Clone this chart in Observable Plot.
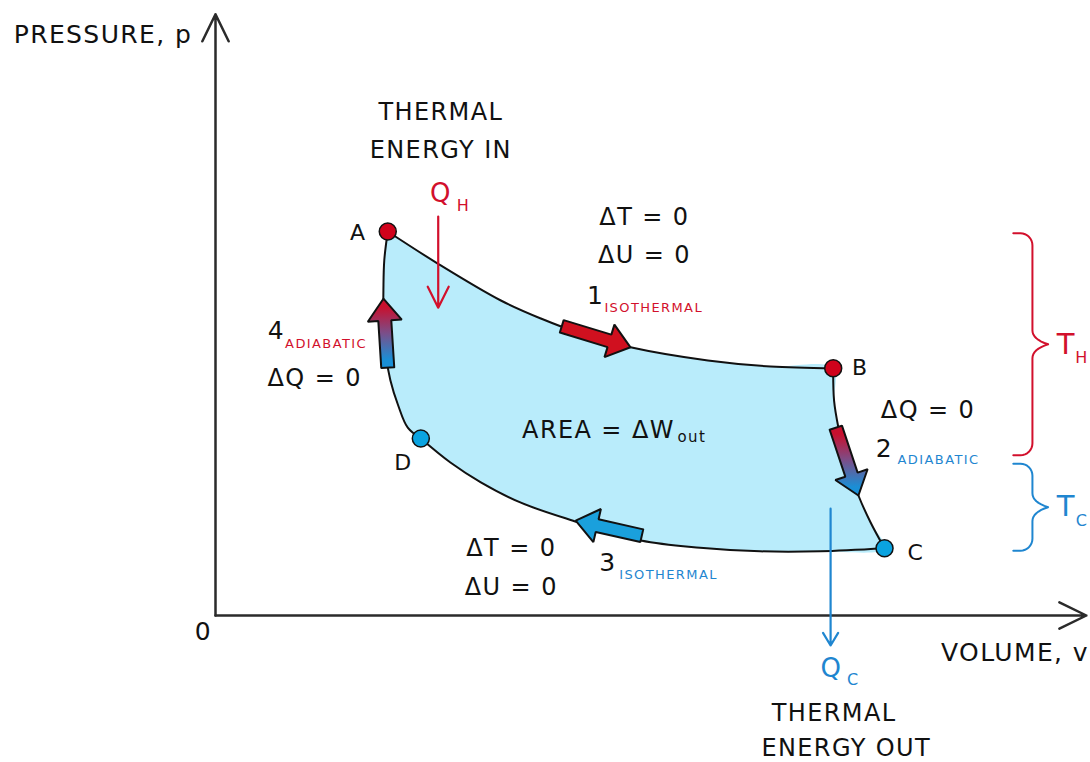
<!DOCTYPE html>
<html><head><meta charset="utf-8">
<script src="https://cdn.jsdelivr.net/npm/d3@7"></script>
<script src="https://cdn.jsdelivr.net/npm/@observablehq/plot@0.6"></script>
<style>body{margin:0;background:#fff;}</style>
</head><body><div id="chart"></div>
<script>
// ---- Data (volume V, pressure p in arbitrary units 0..100) ----
const isothermHot = [[19.8,64.0],[25.5,58.7],[32.8,52.5],[37.4,49.5],[42.0,47.0],[47.7,44.7],[56.6,42.5],[63.8,41.5],[71.0,41.2]];
const adiabatExpansion = [[71.0,41.2],[71.1,35.8],[71.6,31.3],[72.5,25.8],[73.9,20.0],[75.3,15.5],[76.9,11.2]];
const isothermCold = [[76.9,11.2],[69.5,10.7],[62.6,10.7],[55.7,11.3],[48.9,12.5],[41.1,15.8],[35.1,18.8],[30.5,22.2],[27.0,25.5],[23.6,29.5]];
const adiabatCompression = [[23.6,29.5],[22.1,31.3],[21.0,35.0],[20.1,39.2],[19.5,44.2],[19.3,49.2],[19.3,54.2],[19.4,59.2],[19.8,64.0]];

const states = [
  {name:"A", V:19.8, p:64.0, reservoir:"hot"},
  {name:"B", V:71.0, p:41.2, reservoir:"hot"},
  {name:"C", V:76.9, p:11.2, reservoir:"cold"},
  {name:"D", V:23.6, p:29.5, reservoir:"cold"}
];
const stateLabels = [
  {name:"A", V:16.4, p:63.8},
  {name:"B", V:74.1, p:41.2},
  {name:"C", V:80.5, p:10.5},
  {name:"D", V:21.6, p:25.5}
];
const stepNumbers = [
  {step:"1", V:43.7, p:53.3},
  {step:"2", V:76.9, p:27.8},
  {step:"3", V:45.1, p:8.8},
  {step:"4", V:7.0, p:47.5}
];
const stepNames = [
  {name:"ISOTHERMAL", V:44.7, p:51.3, reservoir:"hot"},
  {name:"ADIABATIC", V:78.4, p:26.0, reservoir:"cold"},
  {name:"ISOTHERMAL", V:46.4, p:6.8, reservoir:"cold"},
  {name:"ADIABATIC", V:8.0, p:45.2, reservoir:"hot"}
];
const stepArrows = [
  {step:1, tail:[39.8,48.2], tip:[47.7,44.7], kind:"hot"},
  {step:2, tail:[71.3,31.3], tip:[73.9,20.0], kind:"gradient"},
  {step:3, tail:[49.0,13.3], tip:[41.4,15.8], kind:"cold"},
  {step:4, tail:[19.8,41.3], tip:[19.3,52.8], kind:"gradient"}
];
const notes = [
  {text:"THERMAL", V:25.9, p:83.8},
  {text:"ENERGY IN", V:25.9, p:77.5},
  {text:"ΔT = 0", V:49.3, p:66.3},
  {text:"ΔU = 0", V:49.3, p:60.0},
  {text:"ΔQ = 0", V:11.4, p:39.5},
  {text:"ΔQ = 0", V:81.9, p:34.2},
  {text:"ΔT = 0", V:34.0, p:11.2},
  {text:"ΔU = 0", V:34.0, p:4.7},
  {text:"THERMAL", V:71.1, p:-16.3},
  {text:"ENERGY OUT", V:72.5, p:-22.2}
];
const areaLabel = [{text:"AREA = ΔW", V:52.8, p:30.8}];
const areaSub = [{text:"out", V:53.1, p:29.7}];
const axisTitles = [
  {text:"PRESSURE, p", V:-23.2, p:96.8, anchor:"start"},
  {text:"VOLUME, v", V:100.4, p:-6.3, anchor:"end"},
  {text:"0", V:-1.4, p:-2.8, anchor:"middle"}
];
const axes = [
  {x1:0, y1:0, x2:0, y2:100.2},
  {x1:0, y1:0, x2:100.1, y2:0}
];
const heatFlows = [
  {name:"H", V:25.6, from:66.5, to:51.3, reservoir:"hot"},
  {name:"C", V:70.7, from:17.8, to:-5.0, reservoir:"cold"}
];
const heatLabels = [
  {q:"Q", sub:"H", V:25.9, p:70.3, subV:28.5, subP:68.3, reservoir:"hot"},
  {q:"Q", sub:"C", V:70.8, p:-8.8, subV:73.3, subP:-10.8, reservoir:"cold"}
];
const temperatures = [
  {name:"H", top:63.7, bottom:26.7, V:97.8, subV:99.6, reservoir:"hot"},
  {name:"C", top:25.3, bottom:10.8, V:97.8, subV:99.6, reservoir:"cold"}
];

// ---- Styles ----
const RED = "#d2102c", BLUE = "#1f86d0", DOT_RED = "#d0021b", DOT_BLUE = "#0aa3e0";
const ARROW_RED = "#d0101f", ARROW_BLUE = "#1aa0dc", FILL = "#b9ecfb", INK = "#111";
const GRAD_PLACEHOLDER = "#010203";

const xScale = d3.scaleLinear([0,100],[215,1085]);
const yScale = d3.scaleLinear([0,100],[615,15]);
const toData = ([x,y]) => [xScale.invert(x), yScale.invert(y)];

const cycle = [...isothermHot, ...adiabatExpansion.slice(1), ...isothermCold.slice(1), ...adiabatCompression.slice(1)];

function blockArrowShape(a) {
  const x0 = xScale(a.tail[0]), y0 = yScale(a.tail[1]);
  const x1 = xScale(a.tip[0]), y1 = yScale(a.tip[1]);
  const len = Math.hypot(x1-x0, y1-y0), ux = (x1-x0)/len, uy = (y1-y0)/len, nx = -uy, ny = ux;
  const sw = 6.5, hw = 17, hl = 22;
  const bx = x1-ux*hl, by = y1-uy*hl;
  const pts = [[x0+nx*sw,y0+ny*sw],[bx+nx*sw,by+ny*sw],[bx+nx*hw,by+ny*hw],[x1,y1],
               [bx-nx*hw,by-ny*hw],[bx-nx*sw,by-ny*sw],[x0-nx*sw,y0-ny*sw],[x0+nx*sw,y0+ny*sw]];
  return pts.map(toData);
}

function braceShape(t) {
  const xe = xScale(91.7), xs = xScale(93.9), xt = xScale(95.7);
  const yt = yScale(t.top), yb = yScale(t.bottom), ym = (yt+yb)/2;
  const r = 12, pts = [];
  pts.push([xe, yt]);
  for (let i = 0; i <= 8; i++) { const a = -Math.PI/2 + i*Math.PI/16; pts.push([xs - r + r*Math.cos(a), yt + r + r*Math.sin(a)]); }
  const q = (p0,p1,p2,s) => [(1-s)*(1-s)*p0[0]+2*(1-s)*s*p1[0]+s*s*p2[0], (1-s)*(1-s)*p0[1]+2*(1-s)*s*p1[1]+s*s*p2[1]];
  const m = 14;
  for (let i = 0; i <= 8; i++) pts.push(q([xs, ym-m],[xs, ym-5],[xt, ym], i/8));
  for (let i = 0; i <= 8; i++) pts.push(q([xt, ym],[xs, ym+5],[xs, ym+m], i/8));
  for (let i = 0; i <= 8; i++) { const a = 0 + i*Math.PI/16; pts.push([xs - r + r*Math.cos(a), yb - r + r*Math.sin(a)]); }
  pts.push([xe, yb]);
  return pts.map(toData);
}

const X = d => d[0], Y = d => d[1];
const marks = [];

// cycle area (smooth) + four smooth outline strokes
marks.push(Plot.line(cycle, {x:X, y:Y, fill:FILL, stroke:"none", curve:"catmull-rom"}));
for (const seg of [isothermHot, adiabatExpansion, isothermCold, adiabatCompression]) {
  marks.push(Plot.line(seg, {x:X, y:Y, stroke:INK, strokeWidth:2, curve:"catmull-rom"}));
}
// axes
marks.push(Plot.arrow(axes, {x1:"x1", y1:"y1", x2:"x2", y2:"y2", stroke:"#2b2b2b", strokeWidth:2.5, headAngle:52, headLength:18}));
// heat flow arrows
marks.push(Plot.arrow(heatFlows.filter(d=>d.reservoir==="hot"), {x1:"V", y1:"from", x2:"V", y2:"to", stroke:RED, strokeWidth:2.2, headAngle:53, headLength:16}));
marks.push(Plot.arrow(heatFlows.filter(d=>d.reservoir==="cold"), {x1:"V", y1:"from", x2:"V", y2:"to", stroke:BLUE, strokeWidth:2.2, headAngle:62, headLength:10}));
// block arrows
for (const a of stepArrows) {
  const fill = a.kind === "hot" ? ARROW_RED : a.kind === "cold" ? ARROW_BLUE : GRAD_PLACEHOLDER;
  marks.push(Plot.line(blockArrowShape(a), {x:X, y:Y, fill, stroke:INK, strokeWidth:2, strokeLinejoin:"miter"}));
}
// braces
for (const t of temperatures) {
  marks.push(Plot.line(braceShape(t), {x:X, y:Y, stroke: t.reservoir==="hot" ? RED : BLUE, strokeWidth:2, strokeLinejoin:"round", strokeLinecap:"round"}));
}
// state dots
marks.push(Plot.dot(states.filter(d=>d.reservoir==="hot"), {x:"V", y:"p", r:8.5, fill:DOT_RED, stroke:INK, strokeWidth:1.5}));
marks.push(Plot.dot(states.filter(d=>d.reservoir==="cold"), {x:"V", y:"p", r:8.5, fill:DOT_BLUE, stroke:INK, strokeWidth:1.5}));
// text
marks.push(Plot.text(stateLabels, {x:"V", y:"p", text:"name", fontSize:22, fill:INK}));
marks.push(Plot.text(notes, {x:"V", y:"p", text:"text", fontSize:24, fill:INK}));
marks.push(Plot.text(areaLabel, {x:"V", y:"p", text:"text", fontSize:24, fill:INK, textAnchor:"end"}));
marks.push(Plot.text(areaSub, {x:"V", y:"p", text:"text", fontSize:15, fill:INK, textAnchor:"start"}));
for (const anchor of ["start","end","middle"]) {
  marks.push(Plot.text(axisTitles.filter(d=>d.anchor===anchor), {x:"V", y:"p", text:"text", fontSize:25, fill:INK, textAnchor:anchor}));
}
marks.push(Plot.text(stepNumbers, {x:"V", y:"p", text:"step", fontSize:25, fill:INK}));
marks.push(Plot.text(stepNames.filter(d=>d.reservoir==="hot"), {x:"V", y:"p", text:"name", fontSize:13, fill:RED, textAnchor:"start"}));
marks.push(Plot.text(stepNames.filter(d=>d.reservoir==="cold"), {x:"V", y:"p", text:"name", fontSize:13, fill:BLUE, textAnchor:"start"}));
for (const [res, col] of [["hot", RED], ["cold", BLUE]]) {
  const hl = heatLabels.filter(d=>d.reservoir===res);
  marks.push(Plot.text(hl, {x:"V", y:"p", text:"q", fontSize:26, fill:col}));
  marks.push(Plot.text(hl, {x:"subV", y:"subP", text:"sub", fontSize:16, fill:col}));
  const tl = temperatures.filter(d=>d.reservoir===res);
  marks.push(Plot.text(tl, {x:"V", y:d=>(d.top+d.bottom)/2, text:()=> "T", fontSize:29, fill:col}));
  marks.push(Plot.text(tl, {x:"subV", y:d=>(d.top+d.bottom)/2 - 2.2, text:"name", fontSize:16, fill:col}));
}

const svg = Plot.plot({
  width:1090, height:762,
  x:{domain:xScale.domain(), range:xScale.range()},
  y:{domain:yScale.domain(), range:yScale.range()},
  axis:null,
  style:{fontFamily:"'DejaVu Sans', sans-serif", background:"#fff", overflow:"visible"},
  marks
});
svg.style.letterSpacing = "0.14em";

const ns = "http://www.w3.org/2000/svg";
const defs = document.createElementNS(ns, "defs");
defs.innerHTML = '<linearGradient id="adiabatGrad" x1="0" y1="0" x2="0" y2="1">' +
  '<stop offset="0.12" stop-color="#c8102e"/><stop offset="0.5" stop-color="#7a4f8a"/><stop offset="0.88" stop-color="#1a8fd6"/></linearGradient>';
svg.insertBefore(defs, svg.firstChild);
svg.querySelectorAll('[fill="' + GRAD_PLACEHOLDER + '"]').forEach(e => e.setAttribute("fill", "url(#adiabatGrad)"));

document.getElementById("chart").appendChild(svg);
</script>
</body></html>
